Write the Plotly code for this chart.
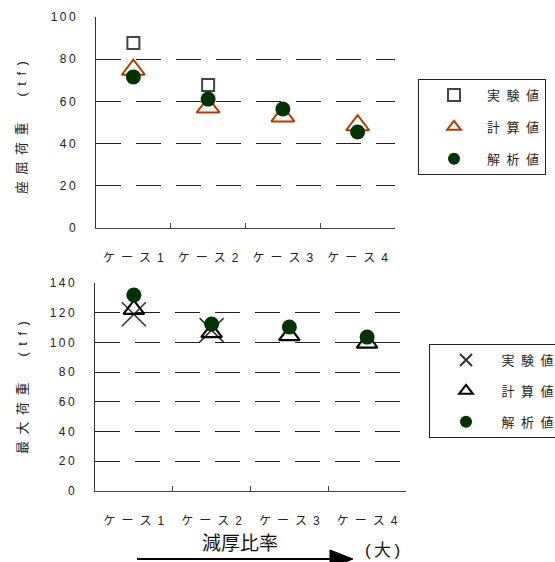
import plotly.graph_objects as go

W, H = 555, 562
FONT = "Liberation Sans, Noto Sans CJK JP, sans-serif"

# ---- data ----
cases = ["ケース1", "ケース2", "ケース3", "ケース4"]
series_names = ["実験値", "計算値", "解析値"]

# buckling load (tf)
buckle_exp = [87.7, 67.8, None, None]
buckle_calc = [75.0, 57.1, 52.9, 48.7]
buckle_ana = [71.6, 61.1, 56.4, 45.5]

# maximum load (tf)
max_exp = [119.0, 108.3, None, None]
max_calc = [122.2, 106.6, 104.6, 99.5]
max_ana = [131.9, 112.4, 110.4, 103.6]

top_ticks = [0, 20, 40, 60, 80, 100]
bot_ticks = [0, 20, 40, 60, 80, 100, 120, 140]

EN = "\u2002"
TH = "\u2009"


def spaced(s, sep=EN):
    return sep.join(list(s))


cat_labels = [spaced(c) for c in cases]
leg_names = ["\u2003" + spaced(n) for n in series_names]
leg_names2 = ["\u2003" + TH + spaced(n) for n in series_names]


def px(x):
    return x / W


def py(y):
    return 1 - y / H


fig = go.Figure()

# top chart
fig.add_trace(go.Scatter(x=cat_labels, y=buckle_exp, mode="markers", name=leg_names[0],
                         legend="legend", legendgroup="a1", xaxis="x", yaxis="y",
                         marker=dict(symbol="square-open", size=12, color="#444",
                                     line=dict(width=2, color="#444"))))
fig.add_trace(go.Scatter(x=cat_labels, y=buckle_calc, mode="markers", name=leg_names[1],
                         legend="legend", legendgroup="a2", xaxis="x", yaxis="y",
                         marker=dict(symbol="triangle-up-open", size=20, color="#b03c00",
                                     line=dict(width=2, color="#b03c00"))))
fig.add_trace(go.Scatter(x=cat_labels, y=buckle_ana, mode="markers", name=leg_names[2],
                         legend="legend", legendgroup="a3", xaxis="x", yaxis="y",
                         marker=dict(symbol="circle", size=15, color="#003300",
                                     line=dict(width=0))))

# bottom chart
fig.add_trace(go.Scatter(x=cat_labels, y=max_exp, mode="markers", name=leg_names2[0],
                         legend="legend2", legendgroup="b1", xaxis="x2", yaxis="y2",
                         marker=dict(symbol="x-thin-open", size=24, color="#333",
                                     line=dict(width=1.6, color="#333"))))
fig.add_trace(go.Scatter(x=cat_labels, y=max_calc, mode="markers", name=leg_names2[1],
                         legend="legend2", legendgroup="b2", xaxis="x2", yaxis="y2",
                         marker=dict(symbol="triangle-up-open", size=18, color="#000",
                                     line=dict(width=2.2, color="#000"))))
fig.add_trace(go.Scatter(x=cat_labels, y=max_ana, mode="markers", name=leg_names2[2],
                         legend="legend2", legendgroup="b3", xaxis="x2", yaxis="y2",
                         marker=dict(symbol="circle", size=15, color="#003300",
                                     line=dict(width=0))))

tickfont = dict(family=FONT, size=12, color="#222")

xcommon = dict(type="category", categoryorder="array", categoryarray=cat_labels,
               range=[-0.5, 3.5], showgrid=False, zeroline=False,
               showline=True, linecolor="#444", linewidth=1,
               ticks="inside", ticklen=5, tickcolor="#444", tickwidth=1,
               tickson="boundaries", tickfont=tickfont, ticklabelstandoff=19,
               fixedrange=True)
ycommon = dict(showgrid=True, gridcolor="#222", gridwidth=1, griddash="25px,15px",
               zeroline=False, showline=True, linecolor="#333", linewidth=1,
               ticks="", tickfont=tickfont, ticklabelstandoff=17, tickmode="array",
               fixedrange=True)

fig.update_layout(
    width=W, height=H,
    margin=dict(l=0, r=0, t=0, b=0, autoexpand=False),
    paper_bgcolor="white", plot_bgcolor="white",
    font=dict(family=FONT, size=12, color="#222"),
    xaxis=dict(domain=[px(96), px(395)], anchor="y", **xcommon),
    yaxis=dict(domain=[py(228), py(17)], anchor="x", range=[0, 100],
               tickvals=top_ticks, ticktext=[spaced(str(v), TH) for v in top_ticks],
               **ycommon),
    xaxis2=dict(domain=[px(95), px(406)], anchor="y2", **xcommon),
    yaxis2=dict(domain=[py(491), py(283)], anchor="x2", range=[0, 140],
                tickvals=bot_ticks, ticktext=[spaced(str(v), TH) for v in bot_ticks],
                **ycommon),
    legend=dict(x=px(418), y=py(79), xanchor="left", yanchor="top",
                bordercolor="#222", borderwidth=1, bgcolor="white",
                font=dict(family=FONT, size=13, color="#222"),
                indentation=15, tracegroupgap=12, itemsizing="constant",
                traceorder="grouped"),
    legend2=dict(x=px(429), y=py(344), xanchor="left", yanchor="top",
                 bordercolor="#222", borderwidth=1, bgcolor="white",
                 font=dict(family=FONT, size=13, color="#222"),
                 indentation=16, tracegroupgap=11, itemsizing="constant",
                 traceorder="grouped", entrywidth=150, entrywidthmode="pixels"),
    showlegend=True,
)

ytitle_font = dict(family=FONT, size=13, color="#222")
ann = [
    dict(text="座" + EN + "屈" + EN + "荷" + EN + "重" + "\u3000\u3000" + "(" + EN + "t" + EN + "f" + EN + ")",
         x=px(22), y=py(128), textangle=-90, font=ytitle_font),
    dict(text="最" + EN + "大" + EN + "荷" + EN + "重" + "\u3000\u3000" + "(" + EN + "t" + EN + "f" + EN + ")",
         x=px(22), y=py(388), textangle=-90, font=ytitle_font),
    dict(text="減厚比率", x=px(240), y=py(543), font=dict(family=FONT, size=19, color="#111")),
    dict(text="(" + TH + "大" + TH + ")", x=px(382), y=py(550), font=dict(family=FONT, size=17, color="#111")),
]
for a in ann:
    a.update(xref="paper", yref="paper", showarrow=False, xanchor="center", yanchor="middle")
fig.update_layout(annotations=ann)

fig.update_layout(shapes=[
    dict(type="line", xref="paper", yref="paper", x0=px(137), x1=px(332), y0=py(559), y1=py(559),
         line=dict(color="black", width=2)),
    dict(type="path", xref="paper", yref="paper",
         path=f"M {px(330)},{py(550)} L {px(353)},{py(559)} L {px(330)},{py(568)} Z",
         fillcolor="black", line=dict(color="black", width=1)),
])

fig.write_html("out.html", config={"displayModeBar": False},
               post_script="document.body.style.margin='0';document.body.style.overflow='hidden';")
